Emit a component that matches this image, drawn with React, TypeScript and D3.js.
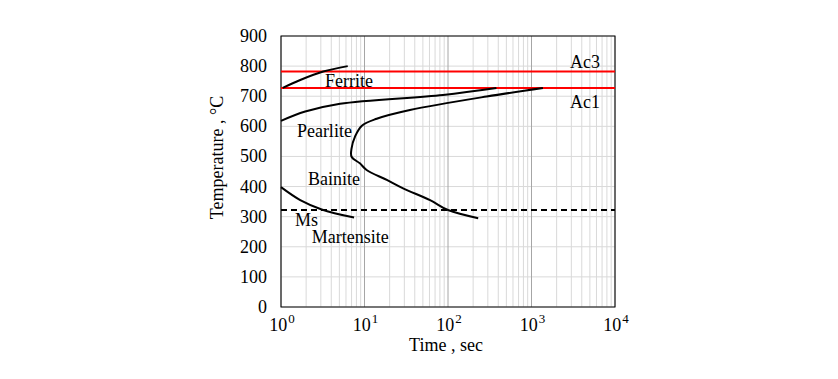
import React from "react";
import * as d3 from "d3";

const yTicks = [0, 100, 200, 300, 400, 500, 600, 700, 800, 900];
const xExponents = [0, 1, 2, 3, 4];

// [time sec, temperature °C]
const ferriteCurve: [number, number][] = [
  [1.05, 728], [1.7, 754], [3.2, 782], [6.3, 800],
];
const pearliteStart: [number, number][] = [
  [1.0, 618], [1.95, 649], [5.1, 675], [87, 704], [380, 727],
];
const noseCurve: [number, number][] = [
  [1370, 727], [290, 699], [35, 654], [14, 625], [9.3, 602], [7.7, 566],
  [7.0, 527], [7.0, 499], [8.8, 477], [10.6, 455], [18.5, 422], [29, 394],
  [61, 355], [100, 322], [230, 295],
];
const martensiteCurve: [number, number][] = [
  [1.0, 398], [1.7, 355], [3.07, 324], [7.5, 297],
];
const ac3 = 782;
const ac1 = 727;
const ms = 322;

const labels = [
  { text: "Ferrite", t: 3.36, T: 731, anchor: "start" },
  { text: "Pearlite", t: 1.55, T: 566, anchor: "start" },
  { text: "Bainite", t: 2.1, T: 405, anchor: "start" },
  { text: "Ms", t: 1.47, T: 270, anchor: "start" },
  { text: "Martensite", t: 2.33, T: 212, anchor: "start" },
  { text: "Ac3", t: 4380, T: 793, anchor: "middle" },
  { text: "Ac1", t: 4380, T: 660, anchor: "middle" },
];

export default function App() {
  const W = 838, H = 379;
  const x = d3.scaleLog().domain([1, 1e4]).range([281, 615]);
  const y = d3.scaleLinear().domain([0, 900]).range([307, 36]);
  const font = "'Liberation Serif', 'Times New Roman', serif";
  const fs = 18;

  const minor: number[] = [];
  for (let e = 0; e < 4; e++) for (let m = 2; m <= 9; m++) minor.push(m * Math.pow(10, e));

  const line = d3
    .line<[number, number]>()
    .x((d) => x(d[0]))
    .y((d) => y(d[1]))
    .curve(d3.curveCatmullRom.alpha(0.5));

  const curves = [ferriteCurve, pearliteStart, noseCurve, martensiteCurve];

  return (
    <svg width={W} height={H} style={{ position: "absolute", left: 0, top: 0, background: "#fff" }}>
      <rect width={W} height={H} fill="#fff" />
      {/* grid */}
      {minor.map((v, i) => (
        <line key={"mn" + i} x1={x(v)} x2={x(v)} y1={y(0)} y2={y(900)} stroke="#d9d9d9" strokeWidth={1} />
      ))}
      {yTicks.map((v) => (
        <line key={"hy" + v} x1={x(1)} x2={x(1e4)} y1={y(v)} y2={y(v)} stroke="#d9d9d9" strokeWidth={1} />
      ))}
      {xExponents.map((e) => (
        <line key={"mj" + e} x1={x(Math.pow(10, e))} x2={x(Math.pow(10, e))} y1={y(0)} y2={y(900)} stroke="#a6a6a6" strokeWidth={1} />
      ))}
      {/* frame */}
      <rect x={x(1)} y={y(900)} width={x(1e4) - x(1)} height={y(0) - y(900)} fill="none" stroke="#000" strokeWidth={1} />

      {/* reference lines */}
      <line x1={x(1)} x2={x(1e4)} y1={y(ac3)} y2={y(ac3)} stroke="#ff0000" strokeWidth={2} />
      <line x1={x(1)} x2={x(1e4)} y1={y(ac1)} y2={y(ac1)} stroke="#ff0000" strokeWidth={2} />
      <line x1={x(1)} x2={x(1e4)} y1={y(ms)} y2={y(ms)} stroke="#000" strokeWidth={2} strokeDasharray="6,4" />

      {curves.map((c, i) => (
        <path key={"c" + i} d={line(c) || ""} fill="none" stroke="#000" strokeWidth={2} />
      ))}

      {labels.map((l) => (
        <text key={l.text} x={x(l.t)} y={y(l.T)} fontFamily={font} fontSize={fs} textAnchor={l.anchor} fill="#000">
          {l.text}
        </text>
      ))}

      {/* y tick labels */}
      {yTicks.map((v) => (
        <text key={"yt" + v} x={267} y={y(v) + 6} fontFamily={font} fontSize={fs} textAnchor="end" fill="#000">
          {v}
        </text>
      ))}
      {/* x tick labels */}
      {xExponents.map((e) => (
        <text key={"xt" + e} x={x(Math.pow(10, e)) + 1} y={331} fontFamily={font} fontSize={fs} textAnchor="middle" fill="#000">
          10
          <tspan fontSize={13} dx={1} dy={-8}>{e}</tspan>
        </text>
      ))}
      <text x={446} y={351} fontFamily={font} fontSize={fs} textAnchor="middle" fill="#000">
        Time , sec
      </text>
      <text
        transform={`translate(223,157.5) rotate(-90)`}
        fontFamily={font}
        fontSize={fs}
        textAnchor="middle"
        fill="#000"
      >
        Temperature , °C
      </text>
    </svg>
  );
}
